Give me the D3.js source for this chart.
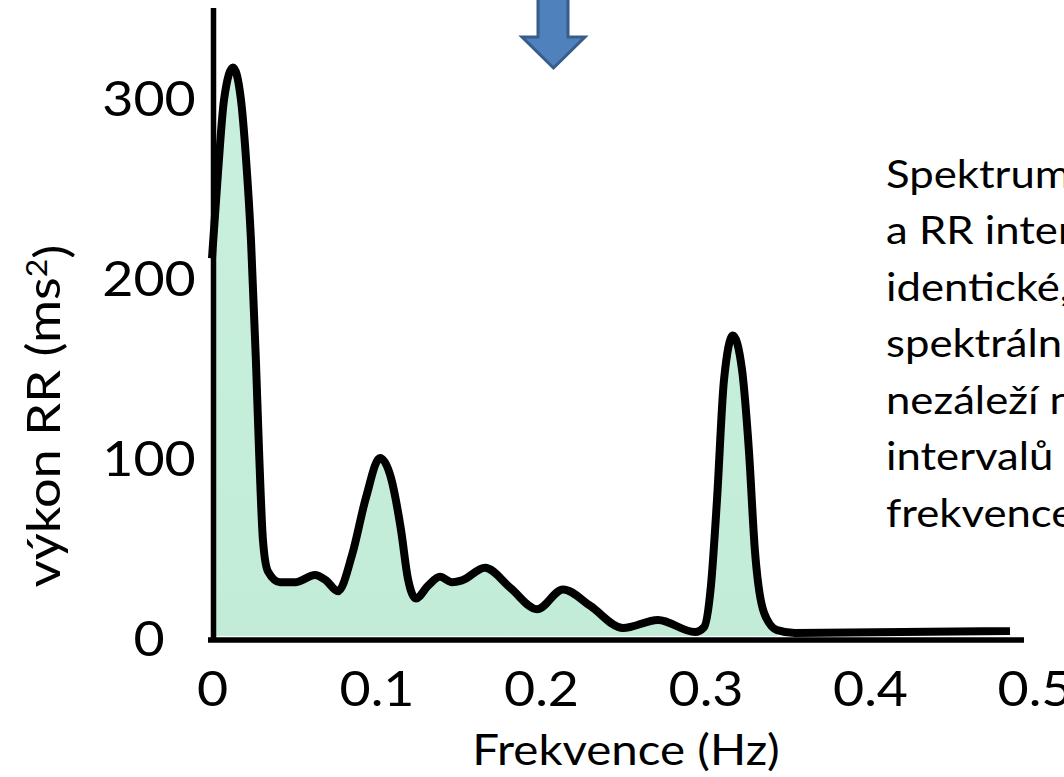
<!DOCTYPE html>
<html>
<head>
<meta charset="utf-8">
<script src="https://cdn.jsdelivr.net/npm/d3@7"></script>
<style>
  html, body { margin: 0; padding: 0; background: #fff; overflow: hidden; }
  svg { display: block; }
  text { font-family: Lato, "Open Sans", sans-serif; fill: #000; }
</style>
</head>
<body>
<svg id="chart" width="1064" height="777"></svg>
<script>
// ---- data ----
const freq = [0, 0.0036, 0.0073, 0.0128, 0.0176, 0.0207, 0.0237, 0.0267, 0.0286, 0.031, 0.034,
  0.0413, 0.051, 0.0626, 0.0693, 0.0766, 0.0851, 0.0936, 0.1021, 0.1088, 0.1149, 0.1191, 0.124,
  0.1313, 0.1386, 0.1459, 0.152, 0.166, 0.1812, 0.1976, 0.2134, 0.2298, 0.2498, 0.2711, 0.2936,
  0.2991, 0.3033, 0.307, 0.3112, 0.3167, 0.3222, 0.3264, 0.33, 0.3356, 0.3435, 0.3544, 0.4851];
const power = [211, 258, 299, 317, 299, 266, 221, 154, 104, 54, 37,
  31, 31, 35, 32, 26, 46, 78, 100, 89, 60, 33, 22,
  29, 34, 31, 32, 39, 28, 16, 27, 18, 5.5, 10, 3.3,
  6, 29, 77, 143, 168, 149, 104, 49, 14, 4.4, 2.8, 3.9];
const fillEndFreq = 0.345;
const xTicks = [0, 0.1, 0.2, 0.3, 0.4, 0.5];
const xTickLabels = ["0", "0.1", "0.2", "0.3", "0.4", "0.5"];
const yTicks = [0, 100, 200, 300];
const yTickLabels = ["0", "100", "200", "300"];
const xTitle = "Frekvence (Hz)";
const yTitleMain = "výkon RR (ms";
const yTitleSup = "2";
const noteLines = ["Spektrum výkonu", "a RR intervalů", "identické, neboť", "spektrální analýze", "nezáleží na tom, zda", "intervalů nebo", "frekvence"];

// ---- drawing ----
const svg = d3.select("#chart");
const x = d3.scaleLinear().domain([0, 0.5]).range([212, 1034.5]);
const y = d3.scaleLinear().domain([0, 350]).range([638, 8]);
const pts = freq.map((f, i) => ({ f, v: power[i] }));

// area fill
const area = d3.area().x(d => x(d.f)).y0(y(0) - 2).y1(d => y(d.v)).curve(d3.curveMonotoneX);
const grad = svg.append("defs").append("linearGradient").attr("id", "mint").attr("x1", 0).attr("x2", 0).attr("y1", 0).attr("y2", 1);
grad.append("stop").attr("offset", "0%").attr("stop-color", "#c9f0de");
grad.append("stop").attr("offset", "100%").attr("stop-color", "#c2ecd8");
svg.append("path").datum(pts.filter(d => d.f <= fillEndFreq))
  .attr("d", area).attr("fill", "url(#mint)");

// axes lines
svg.append("line").attr("x1", 208).attr("x2", 1024).attr("y1", 640).attr("y2", 640)
  .attr("stroke", "#000").attr("stroke-width", 5.5);
svg.append("line").attr("x1", 213.5).attr("x2", 213.5).attr("y1", y(350)).attr("y2", 642)
  .attr("stroke", "#000").attr("stroke-width", 5.5);

// curve
const line = d3.line().x(d => x(d.f)).y(d => y(d.v)).curve(d3.curveMonotoneX);
svg.append("path").datum(pts).attr("d", line).attr("fill", "none")
  .attr("stroke", "#000").attr("stroke-width", 8).attr("stroke-linejoin", "round").attr("stroke-linecap", "butt");

// x axis ticks
const xAxis = d3.axisBottom(x).tickValues(xTicks).tickSize(0)
  .tickFormat((d, i) => xTickLabels[i]);
const gx = svg.append("g").attr("transform", "translate(0,640)").call(xAxis);
gx.select(".domain").remove();
gx.selectAll("text").attr("y", 0).attr("dy", 0)
  .attr("transform", "translate(0,66) scale(1.12,1)")
  .style("font-size", "48px").style("font-family", "Lato").attr("fill", "#000");

// y axis ticks
const yAxis = d3.axisLeft(y).tickValues(yTicks).tickSize(0)
  .tickFormat((d, i) => yTickLabels[i]);
const gy = svg.append("g").attr("transform", "translate(149,0)").call(yAxis);
gy.select(".domain").remove();
gy.selectAll("text").attr("x", 0).attr("dy", "0.36em")
  .attr("text-anchor", "middle").attr("transform", "scale(1.12,1)")
  .style("font-size", "48px").style("font-family", "Lato").attr("fill", "#000");

// x title
svg.append("text").attr("transform", "translate(626,765) scale(1.13,1)")
  .attr("text-anchor", "middle").style("font-size", "42px").text(xTitle);

// y title
const yt = svg.append("text").attr("transform", "translate(60,416) rotate(-90) scale(1.14,1)")
  .attr("text-anchor", "middle").style("font-size", "46px");
yt.append("tspan").text(yTitleMain);
yt.append("tspan").attr("dy", "-0.45em").style("font-size", "28px").text(yTitleSup);
yt.append("tspan").attr("dy", "0.45em").text(")");

// annotation
const note = svg.append("g").attr("transform", "translate(886,0) scale(1.12,1)");
note.selectAll("text").data(noteLines).join("text")
  .attr("x", 0).attr("y", (d, i) => 188 + i * 56.5)
  .style("font-size", "39px").text(d => d);

// arrow
svg.append("path")
  .attr("d", "M538,-4 L568,-4 L568,37 L585,37 L553.5,68 L522,37 L538,37 Z")
  .attr("fill", "#4f81bd").attr("stroke", "#385d8a").attr("stroke-width", 3).attr("stroke-linejoin", "miter");
</script>
</body>
</html>
